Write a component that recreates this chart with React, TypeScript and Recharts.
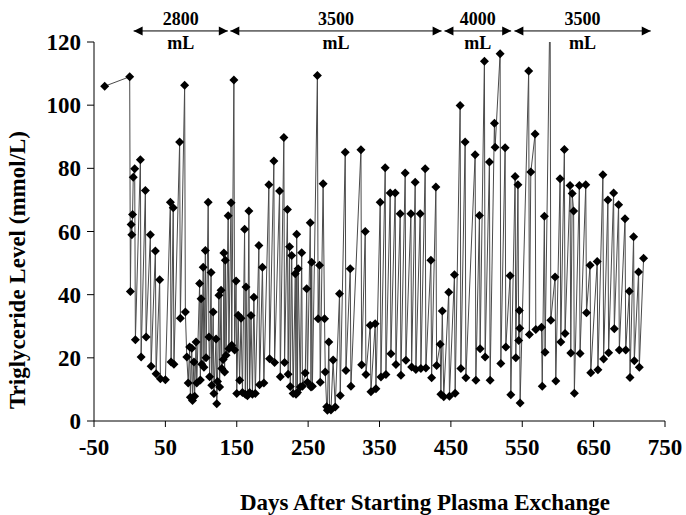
import { LineChart, Line, XAxis, YAxis, ReferenceLine } from 'recharts';

// [day, triglyceride mmol/L]
const baseline = [[-35, 106], [0, 109]];

const period2800 = [
  [1, 41], [2, 62.2], [3, 59], [4, 65.4], [5, 77.2], [7, 79.9], [8, 25.7], [15, 82.7], [16, 20.3],
  [22, 73], [23, 26.6], [29, 59], [30, 17.3], [36, 53.8], [37, 15], [42, 44.7], [43, 13.4], [50, 13.1],
  [57, 69.3], [58, 18.7], [61, 67.5], [62, 18], [70, 88.3], [71, 32.5], [77, 106.3], [78, 34.5], [80, 20.3],
  [82, 12], [84, 23.4], [85, 7.5], [87, 23], [88, 6.5], [90, 18.7], [91, 7.8], [93, 25], [94, 12],
  [98, 43.5], [99, 13], [100, 38.7], [101, 18], [103, 48.7], [104, 17], [106, 54], [107, 20],
  [110, 69.3], [111, 26.6], [112, 14], [114, 47], [115, 11.3], [117, 34.5], [118, 8.7], [121, 26],
  [122, 5.5], [123, 12.5], [125, 39.8], [126, 10.8], [128, 41.4], [129, 16.6], [131, 19.5], [132, 53.2],
  [133, 15.5], [134, 50.9], [135, 20.8], [138, 65], [139, 22.9],
];

const period3500a = [
  [142, 69.1], [143, 24], [146, 108], [147, 22.5], [149, 44.3], [150, 8.7], [152, 33.5], [154, 12.9],
  [156, 32.5], [158, 9], [161, 60.7], [162, 8.5], [163, 42.4], [165, 8], [167, 66.5], [168, 9],
  [170, 33.4], [172, 8.5], [174, 39.2], [176, 8.7], [181, 55.6], [182, 11.5], [186, 48.7], [188, 12],
  [195, 74.8], [196, 19.7], [202, 82.3], [203, 18.5], [210, 72.8], [211, 14], [216, 89.8], [217, 18.5],
  [221, 67], [222, 14.8], [224, 55.2], [225, 10.9], [227, 52.4], [229, 8.7], [232, 46.6], [233, 8.5],
  [234, 59.1], [235, 9], [236, 48.2], [239, 10.8], [241, 53.3], [242, 11], [246, 15.2], [248, 41.9],
  [249, 12.3], [253, 62.8], [254, 10.8], [255, 50.3], [256, 11], [263, 109.4], [264, 32.4], [266, 49.3],
  [267, 12.3], [271, 75.1], [273, 32.4], [274, 15.5], [276, 4.5], [277, 3.4], [279, 25], [280, 4],
  [282, 3.5], [285, 19.3], [288, 4.4], [294, 40.3], [295, 8.1], [302, 85.1], [303, 16], [309, 48.2],
  [310, 11], [324, 85.9], [325, 17.8], [330, 60], [331, 14.7], [337, 30.3], [338, 9.3], [344, 30.8],
  [345, 10.2], [351, 69.3], [352, 13.9], [358, 80.2], [359, 14.7], [365, 72.2], [366, 21.3], [372, 72.2],
  [373, 17.9], [379, 65.6], [380, 14.5], [386, 78.5], [387, 19.2], [394, 65.6], [395, 17.1], [400, 75.6],
  [401, 16.3], [407, 65.6], [408, 16.6], [414, 79.9], [415, 16.8], [422, 50.9], [423, 13.7], [429, 74.1],
  [430, 17.6],
];

const period4000 = [
  [435, 24.3], [436, 8.5], [438, 34.8], [440, 7.7], [447, 40.8], [448, 7.8], [455, 46.3], [456, 8.8],
  [463, 99.9], [464, 16.6], [470, 88.3], [471, 13.7], [484, 84.3], [485, 12.9], [490, 65.1], [491, 22.9],
  [497, 113.9], [498, 20.3], [504, 82], [505, 12.9], [511, 94.3], [512, 86.7], [519, 116.3], [520, 18.2],
  [526, 86.5], [527, 23.4], [533, 46], [534, 8.3],
];

const period3500b = [
  [540, 77.4], [541, 20], [544, 74.8], [545, 25.5], [546, 35], [546.5, 29.4], [547, 5.7], [559, 110.8],
  [560, 27.4], [562, 78.8], [568, 90.9], [569, 29], [577, 29.7], [578, 11], [581, 64.8], [582, 21.8],
  [589, 135], [590, 31.9], [596, 45.6], [597, 12.7], [603, 76.7], [604, 25], [609, 86], [610, 27.7],
  [617, 74.6], [618, 21.5], [620, 72], [622, 66.5], [623, 8.8], [630, 74.6], [631, 21.4], [639, 74.8],
  [640, 34.3], [645, 49.3], [646, 15.3], [655, 50.5], [656, 16.2], [663, 78], [664, 19.6], [670, 70],
  [671, 21.6], [678, 72.2], [679, 29.2], [685, 68.5], [686, 22.5], [694, 64], [695, 22.5], [700, 41.1],
  [701, 13.8], [706, 58.3], [707, 19.1], [713, 47.2], [714, 17], [720, 51.5],
];

// plasma volume per exchange, with the day ranges of the arrows
const volumeLabels = ['2800', '3500', '4000', '3500'];
const volumeFrom = [5.5, 141, 441, 539];
const volumeTo = [137.5, 437, 534.5, 730];
const arrowLevel = 123.5;

const xTicks = [-50, 50, 150, 250, 350, 450, 550, 650, 750];
const yTicks = [0, 20, 40, 60, 80, 100, 120];

const data = [...baseline, ...period2800, ...period3500a, ...period4000, ...period3500b]
  .map(([day, level]) => ({ day, level }));

const font = "'Liberation Serif', 'Times New Roman', serif";
const tickStyle = { fill: '#000', fontSize: 23, fontWeight: 'bold', fontFamily: font };

const Diamond = (p: any) => {
  const { cx, cy, index } = p;
  if (cx == null || cy == null) return <g key={`d-${index}`} />;
  const r = 4.5;
  return (
    <polygon
      key={`d-${index}`}
      points={`${cx},${cy - r} ${cx + r},${cy} ${cx},${cy + r} ${cx - r},${cy}`}
      fill="#000"
    />
  );
};

const arrowShape = (label: string) => (p: any) => {
  const { x1, x2, y1 } = p;
  const mid = (x1 + x2) / 2;
  return (
    <g>
      <line x1={x1} y1={y1} x2={x2} y2={y1} stroke="#000" strokeWidth={1} />
      <polygon points={`${x1},${y1} ${x1 + 9},${y1 - 4.5} ${x1 + 9},${y1 + 4.5}`} fill="#000" />
      <polygon points={`${x2},${y1} ${x2 - 9},${y1 - 4.5} ${x2 - 9},${y1 + 4.5}`} fill="#000" />
      <text x={mid} y={y1 - 6} textAnchor="middle" fontSize={18} fontWeight="bold" fontFamily={font}>
        {label}
      </text>
      <text x={mid} y={y1 + 18} textAnchor="middle" fontSize={18} fontWeight="bold" fontFamily={font}>
        mL
      </text>
    </g>
  );
};

export default function App() {
  return (
    <div style={{ position: 'absolute', left: 0, top: 0, width: 686, height: 515, background: '#fff' }}>
      <LineChart width={686} height={515} data={data} margin={{ top: 42, right: 21, bottom: 0, left: 0 }}>
        <XAxis
          type="number"
          dataKey="day"
          domain={[-50, 750]}
          ticks={xTicks}
          interval={0}
          height={94}
          tickSize={6}
          tickMargin={12}
          axisLine={{ stroke: '#000' }}
          tickLine={{ stroke: '#000' }}
          tick={tickStyle}
          allowDataOverflow
        />
        <YAxis
          type="number"
          domain={[0, 120]}
          ticks={yTicks}
          interval={0}
          width={94}
          tickSize={7}
          tickMargin={6}
          axisLine={{ stroke: '#000' }}
          tickLine={{ stroke: '#000' }}
          tick={tickStyle}
          allowDataOverflow
        />
        <Line
          dataKey="level"
          stroke="#4a4a4a"
          strokeWidth={1}
          dot={Diamond}
          activeDot={false}
          isAnimationActive={false}
        />
        {volumeLabels.map((v, i) => (
          <ReferenceLine
            key={`vol-${i}`}
            segment={[{ x: volumeFrom[i], y: arrowLevel }, { x: volumeTo[i], y: arrowLevel }]}
            ifOverflow="visible"
            shape={arrowShape(v)}
          />
        ))}
      </LineChart>
      <div
        style={{
          position: 'absolute', left: 18, top: 270, transform: 'translate(-50%, -50%) rotate(-90deg)',
          whiteSpace: 'nowrap', fontFamily: font, fontWeight: 'bold', fontSize: 23,
        }}
      >
        Triglyceride Level (mmol/L)
      </div>
      <div
        style={{
          position: 'absolute', left: 425, top: 503, transform: 'translate(-50%, -50%)',
          whiteSpace: 'nowrap', fontFamily: font, fontWeight: 'bold', fontSize: 23,
        }}
      >
        Days After Starting Plasma Exchange
      </div>
    </div>
  );
}
